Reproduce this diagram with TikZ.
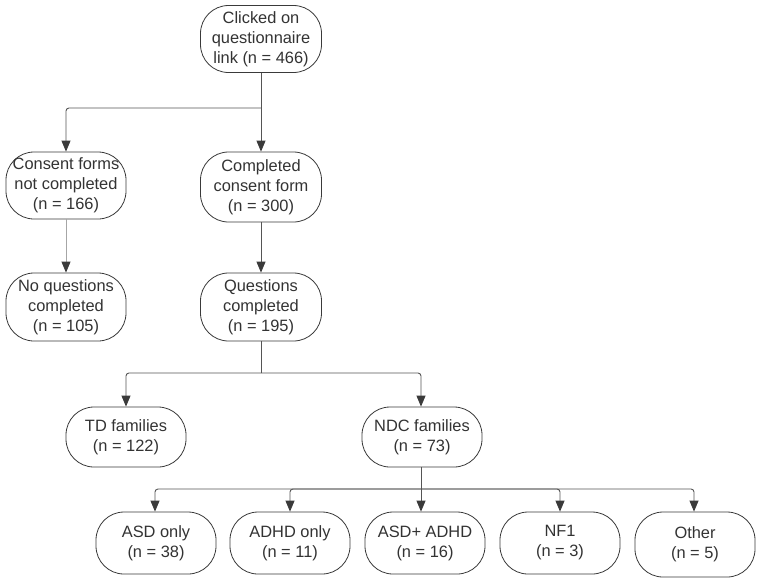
\documentclass[tikz,border=0pt]{standalone}
\usepackage{fontspec}
\setmainfont{Liberation Sans}
\usetikzlibrary{arrows.meta}
\definecolor{txt}{HTML}{333333}
\definecolor{ln}{HTML}{555555}
\definecolor{bd}{HTML}{3A3A3A}
\begin{document}
\begin{tikzpicture}[x=1pt,y=-1pt,
  box/.style={draw=bd, line width=0.8pt, rounded corners=28pt, fill=white,
    minimum width=120pt, minimum height=66pt, align=center, text=txt,
    font=\fontsize{16.4}{20}\selectfont, inner sep=0pt},
  arr/.style={draw=ln, line width=0.9pt, rounded corners=3pt,
    -{Triangle[width=9pt,length=11pt,fill=bd,color=bd]}},
  ln/.style={draw=ln, line width=0.9pt, rounded corners=3pt}]
\useasboundingbox (0,0) rectangle (762,582);
\node[box, minimum width=121pt, minimum height=67pt] (top) at (261,39) {Clicked on\\questionnaire\\link (n = 466)};
\node[box, minimum height=67pt] (cnc) at (66,185.5) {Consent forms\\not completed\\(n = 166)};
\node[box, minimum width=121pt, minimum height=70pt] (ccf) at (261,187) {Completed\\consent form\\(n = 300)};
\node[box, minimum height=68pt] (nqc) at (66,307) {No questions\\completed\\(n = 105)};
\node[box, minimum width=121pt, minimum height=68pt] (qc) at (261,307) {Questions\\completed\\(n = 195)};
\node[box, minimum height=60pt] (td) at (126,437) {TD families\\(n = 122)};
\node[box, minimum height=60pt] (ndc) at (422,437) {NDC families\\(n = 73)};
\node[box, minimum height=62pt] (asd) at (156,543) {ASD only\\(n = 38)};
\node[box, minimum height=62pt] (adhd) at (290,543) {ADHD only\\(n = 11)};
\node[box, minimum height=62pt] (both) at (425,543) {ASD+ ADHD\\(n = 16)};
\node[box, minimum height=62pt] (nf) at (560,543) {NF1\\(n = 3)};
\node[box, minimum height=65pt] (oth) at (695,544.5) {Other\\(n = 5)};
\coordinate (j1) at (261,108);
\coordinate (j2) at (261,373);
\coordinate (j3) at (421,489);
\draw[ln] (top.south) -- (j1);
\draw[arr] (j1) -- (ccf.north);
\draw[arr] (j1) -| (cnc.north);
\draw[arr, draw=gray!70] (cnc.south) -- (nqc.north);
\draw[arr] (ccf.south) -- (qc.north);
\draw[ln] (qc.south) -- (j2);
\draw[arr] (j2) -| (td.north);
\draw[arr] (j2) -| ([xshift=-1pt]ndc.north);
\draw[ln] ([xshift=-1pt]ndc.south) -- (j3);
\draw[arr] (j3) -| ([xshift=-1pt]asd.north);
\draw[arr] (j3) -| (adhd.north);
\draw[arr] (j3) -- ([xshift=-4pt]both.north);
\draw[arr] (j3) -| (nf.north);
\draw[arr] (j3) -| ([xshift=-1pt]oth.north);
\end{tikzpicture}
\end{document}
